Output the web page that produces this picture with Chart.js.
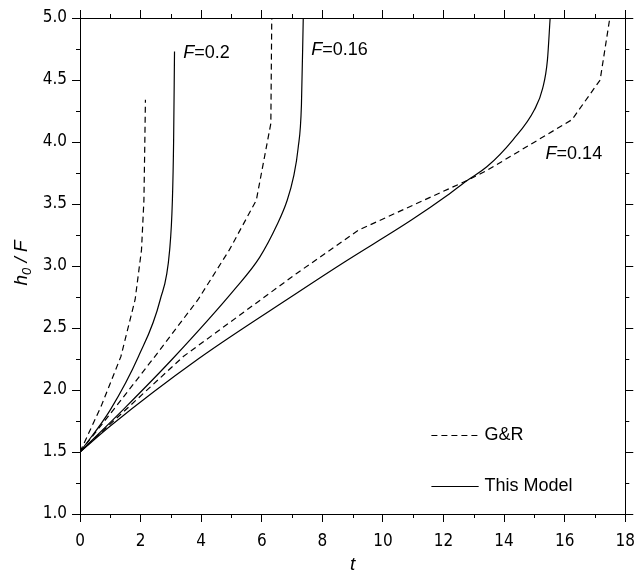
<!DOCTYPE html>
<html>
<head>
<meta charset="utf-8">
<script src="https://cdn.jsdelivr.net/npm/chart.js@4.4.1/dist/chart.umd.min.js"></script>
<style>
html,body{margin:0;padding:0;background:#fff;}
#wrap{width:644px;height:575px;position:relative;}
</style>
</head>
<body>
<div id="wrap"><canvas id="c" width="644" height="575"></canvas></div>
<script>
// ---- data ----
const xTickLabels = ['0','2','4','6','8','10','12','14','16','18'];
const yTickLabels = ['1.0','1.5','2.0','2.5','3.0','3.5','4.0','4.5','5.0'];
const xMinorTicks = [1,3,5,7,9,11,13,15,17];
const yMinorTicks = [1.25,1.75,2.25,2.75,3.25,3.75,4.25,4.75];

// F = 0.2
const gr02_t = [0, 0.7, 1.35, 1.82, 2.03, 2.11, 2.14, 2.16];
const gr02_h = [1.5, 1.87, 2.27, 2.73, 3.13, 3.53, 4.0, 4.34];
const tm02_t = [0, 1.0, 1.93, 2.65, 2.96, 3.05, 3.09, 3.12];
const tm02_h = [1.5, 1.84, 2.27, 2.73, 3.13, 3.53, 4.0, 4.73];
// F = 0.16
const gr016_t = [0, 1.2, 2.47, 3.9, 4.93, 5.82, 6.3, 6.33];
const gr016_h = [1.5, 1.87, 2.27, 2.73, 3.13, 3.53, 4.15, 5.0];
const tm016_t = [0, 1.5, 3.05, 5.13, 5.93, 6.5, 6.84, 7.05, 7.2, 7.31, 7.37];
const tm016_h = [1.5, 1.86, 2.25, 2.82, 3.07, 3.33, 3.53, 3.72, 3.95, 4.3, 5.0];
// F = 0.14
const gr014_t = [0, 3.41, 7.15, 9.2, 12.78, 13.43, 16.24, 17.17, 17.49];
const gr014_h = [1.5, 2.27, 2.94, 3.29, 3.69, 3.77, 4.18, 4.5, 5.0];
const tm014_t = [0, 1.0, 3.9, 7.15, 8.72, 10.94, 12.13, 12.78, 13.43, 14.3, 15.0, 15.27, 15.43, 15.52];
const tm014_h = [1.5, 1.71, 2.25, 2.78, 3.03, 3.37, 3.57, 3.69, 3.8, 4.02, 4.26, 4.43, 4.66, 5.0];

const legendLabels = ['G&R', 'This Model'];
const curveLabels = ['0.2', '0.16', '0.14'];
// label anchor positions (data units)
const curveLabelT = [3.41, 7.63, 15.37];
const curveLabelH = [4.72, 4.74, 3.90];

function pts(t, h){ return t.map((v,i)=>({x:v, y:h[i]})); }

const dashed = [6,4];
function ds(t,h,isDash,smooth){
  return {data: pts(t,h), borderColor:'#000', borderWidth:1.2, pointRadius:0,
    borderDash: isDash?dashed:[], tension:0, cubicInterpolationMode: smooth?'monotone':'default', fill:false};
}

const extras = {
  id:'extras',
  afterDraw(chart){
    const ctx = chart.ctx;
    const xs = chart.scales.x, ys = chart.scales.y;
    const ca = chart.chartArea;
    ctx.save();
    ctx.strokeStyle = '#000';
    ctx.lineWidth = 1;
    // minor ticks on all four sides (outward)
    xMinorTicks.forEach(v=>{
      const px = Math.round(xs.getPixelForValue(v))+0.5;
      ctx.beginPath();
      ctx.moveTo(px, ca.bottom); ctx.lineTo(px, ca.bottom+4);
      ctx.moveTo(px, ca.top); ctx.lineTo(px, ca.top-4);
      ctx.stroke();
    });
    yMinorTicks.forEach(v=>{
      const py = Math.round(ys.getPixelForValue(v))+0.5;
      ctx.beginPath();
      ctx.moveTo(ca.left, py); ctx.lineTo(ca.left-4, py);
      ctx.moveTo(ca.right, py); ctx.lineTo(ca.right+4, py);
      ctx.stroke();
    });
    // curve labels: italic F + "=value"
    ctx.fillStyle = '#000';
    ctx.textBaseline = 'middle';
    ctx.textAlign = 'left';
    curveLabels.forEach((lab,i)=>{
      let px = xs.getPixelForValue(curveLabelT[i]);
      const py = ys.getPixelForValue(curveLabelH[i]);
      ctx.font = 'italic 18px "Liberation Sans", Arial, sans-serif';
      ctx.fillText('F', px, py);
      px += ctx.measureText('F').width;
      ctx.font = '18px "Liberation Sans", Arial, sans-serif';
      ctx.fillText('=' + lab, px, py);
    });
    // legend
    const legT0 = 11.6, legT1 = 13.16, legTx = 13.35;
    const legH = [1.637, 1.226];
    legendLabels.forEach((lab,i)=>{
      const py = Math.round(ys.getPixelForValue(legH[i]))+0.5;
      ctx.setLineDash(i===0?dashed:[]);
      ctx.lineWidth = 1.2;
      ctx.beginPath();
      ctx.moveTo(xs.getPixelForValue(legT0), py);
      ctx.lineTo(xs.getPixelForValue(legT1), py);
      ctx.stroke();
      ctx.setLineDash([]);
      ctx.font = '18px "Liberation Sans", Arial, sans-serif';
      ctx.fillText(lab, xs.getPixelForValue(legTx), py);
    });
    // x axis title
    ctx.textAlign = 'center';
    ctx.font = 'italic 19px "Liberation Sans", Arial, sans-serif';
    ctx.fillText('t', (ca.left+ca.right)/2, 565);
    // y axis title h0 / F rotated
    ctx.translate(22, 263);
    ctx.rotate(-Math.PI/2);
    ctx.textAlign = 'left';
    const big = 'italic 19px "Liberation Sans", Arial, sans-serif';
    const small = 'italic 13px "Liberation Sans", Arial, sans-serif';
    ctx.font = big; const wh = ctx.measureText('h').width;
    ctx.font = small; const w0 = ctx.measureText('0').width;
    ctx.font = big; const wr = ctx.measureText(' / F').width;
    let x0 = -(wh+w0+wr)/2;
    ctx.font = big; ctx.fillText('h', x0, 0); x0 += wh;
    ctx.font = small; ctx.fillText('0', x0, 5); x0 += w0;
    ctx.font = big; ctx.fillText(' / F', x0, 0);
    ctx.restore();
  }
};

const tickFont = {family:'"DejaVu Sans Condensed", "DejaVu Sans", sans-serif', size:17};
const gridCommon = {drawOnChartArea:false, drawTicks:true, tickLength:8, color:'#000', tickColor:'#000', lineWidth:1};
const borderCommon = {display:true, color:'#000', width:1};

new Chart(document.getElementById('c'), {
  type:'line',
  data:{datasets:[
    ds(gr02_t, gr02_h, true, false),
    ds(tm02_t, tm02_h, false, true),
    ds(gr016_t, gr016_h, true, false),
    ds(tm016_t, tm016_h, false, true),
    ds(gr014_t, gr014_h, true, false),
    ds(tm014_t, tm014_h, false, true)
  ]},
  options:{
    responsive:false, animation:false, devicePixelRatio:1,
    layout:{padding:0},
    plugins:{legend:{display:false}, tooltip:{enabled:false}},
    scales:{
      x:{type:'linear', position:'bottom', min:0, max:18,
        ticks:{stepSize:2, color:'#000', font:tickFont, padding:9, maxRotation:0,
          callback:(v)=>{const i = xTickLabels.indexOf(String(v)); return i>=0?xTickLabels[i]:'';}},
        grid:gridCommon, border:borderCommon,
        afterFit:(s)=>{s.height = 61;}},
      x2:{type:'linear', position:'top', min:0, max:18,
        ticks:{stepSize:2, display:false},
        grid:gridCommon, border:borderCommon,
        afterFit:(s)=>{s.height = 18;}},
      y:{type:'linear', position:'left', min:1, max:5,
        ticks:{stepSize:0.5, color:'#000', font:tickFont, padding:5,
          callback:(v)=>{const s = Number(v).toFixed(1); return yTickLabels.includes(s)?s:'';}},
        grid:gridCommon, border:borderCommon,
        afterFit:(s)=>{s.width = 80;}},
      y2:{type:'linear', position:'right', min:1, max:5,
        ticks:{stepSize:0.5, display:false},
        grid:gridCommon, border:borderCommon,
        afterFit:(s)=>{s.width = 10;}}
    }
  },
  plugins:[extras]
});
</script>
</body>
</html>
